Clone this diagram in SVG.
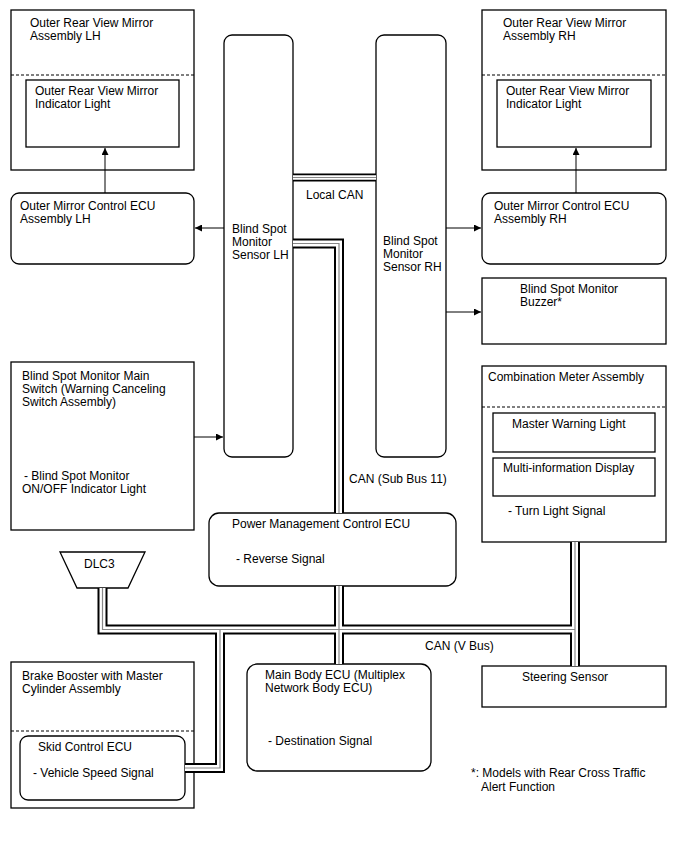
<svg xmlns="http://www.w3.org/2000/svg" width="688" height="852" viewBox="0 0 688 852">
<style>
text{font-family:"Liberation Sans",Arial,sans-serif;font-size:12px;fill:#000}
.b{fill:#fff;stroke:#000;stroke-width:1.3}
.d{stroke:#000;stroke-width:1.2;stroke-dasharray:3,2;fill:none}
.a{stroke:#000;stroke-width:1;fill:none;marker-end:url(#ah)}
.bk{stroke:#000;stroke-width:10;fill:none;stroke-linejoin:miter}
.wh{stroke:#fff;stroke-width:6;fill:none;stroke-linejoin:miter}
.gr{stroke:#888;stroke-width:1.2;fill:none;stroke-linejoin:miter}
.bk2{stroke:#000;stroke-width:8;fill:none}
.wh2{stroke:#fff;stroke-width:4.4;fill:none}
</style>
<defs>
<marker id="ah" viewBox="0 0 10 10" refX="10" refY="5" markerWidth="9" markerHeight="7" markerUnits="userSpaceOnUse" orient="auto"><path d="M0,0L10,5L0,10z" fill="#000"/></marker>
<g id="buspaths">
<path d="M293,243.5H339V513"/>
<path d="M339,586V664"/>
<path d="M102.5,588V629.5H575"/>
<path d="M575,542V666"/>
<path d="M220,629.5V768H185"/>
</g>
<path id="localcan" d="M293,177.5H376"/>
</defs>
<rect width="688" height="852" fill="#fff"/>
<g id="mirror-lh">
<rect class="b" x="11" y="10" width="183" height="160"/>
<path class="d" d="M11,75H194"/>
<text x="30" y="27">Outer Rear View Mirror</text>
<text x="30" y="40">Assembly LH</text>
<rect class="b" x="26" y="80" width="153" height="67"/>
<text x="35" y="95">Outer Rear View Mirror</text>
<text x="35" y="108">Indicator Light</text>
</g>
<g id="mirror-ecu-lh">
<rect class="b" x="11" y="193" width="183" height="71" rx="8"/>
<text x="20" y="210">Outer Mirror Control ECU</text>
<text x="20" y="223">Assembly LH</text>
</g>
<g id="sensor-lh">
<rect class="b" x="224" y="35" width="69" height="422" rx="8"/>
<text x="232" y="233">Blind Spot</text>
<text x="232" y="246">Monitor</text>
<text x="232" y="259">Sensor LH</text>
</g>
<g id="sensor-rh">
<rect class="b" x="376" y="35" width="70" height="422" rx="8"/>
<text x="383" y="245">Blind Spot</text>
<text x="383" y="258">Monitor</text>
<text x="383" y="271">Sensor RH</text>
</g>
<g id="mirror-rh">
<rect class="b" x="482" y="10" width="184" height="160"/>
<path class="d" d="M482,75H666"/>
<text x="503" y="27">Outer Rear View Mirror</text>
<text x="503" y="40">Assembly RH</text>
<rect class="b" x="497" y="80" width="154" height="67"/>
<text x="506" y="95">Outer Rear View Mirror</text>
<text x="506" y="108">Indicator Light</text>
</g>
<g id="mirror-ecu-rh">
<rect class="b" x="482" y="193" width="184" height="71" rx="8"/>
<text x="494" y="210">Outer Mirror Control ECU</text>
<text x="494" y="223">Assembly RH</text>
</g>
<g id="buzzer">
<rect class="b" x="482" y="278" width="184" height="66"/>
<text x="520" y="293">Blind Spot Monitor</text>
<text x="520" y="306">Buzzer*</text>
</g>
<g id="main-switch">
<rect class="b" x="11" y="362" width="183" height="168"/>
<text x="22" y="380">Blind Spot Monitor Main</text>
<text x="22" y="393">Switch (Warning Canceling</text>
<text x="22" y="406">Switch Assembly)</text>
<text x="24" y="480">- Blind Spot Monitor</text>
<text x="22" y="493">ON/OFF Indicator Light</text>
</g>
<g id="combination-meter">
<rect class="b" x="482" y="366" width="184" height="176"/>
<text x="488" y="381">Combination Meter Assembly</text>
<path class="d" d="M482,407H666"/>
<rect class="b" x="493" y="413" width="162" height="39"/>
<text x="512" y="428">Master Warning Light</text>
<rect class="b" x="493" y="458" width="162" height="38"/>
<text x="503" y="472">Multi-information Display</text>
<text x="508" y="515">- Turn Light Signal</text>
</g>
<g id="power-mgmt-ecu">
<rect class="b" x="209" y="513" width="247" height="73" rx="10"/>
<text x="232" y="528">Power Management Control ECU</text>
<text x="236" y="563">- Reverse Signal</text>
</g>
<g id="dlc3">
<path class="b" d="M60,552H145L128,588H77Z"/>
<text x="84" y="568">DLC3</text>
</g>
<g id="brake-booster">
<rect class="b" x="11" y="662" width="183" height="146"/>
<text x="22" y="680">Brake Booster with Master</text>
<text x="22" y="693">Cylinder Assembly</text>
<path class="d" d="M11,731H194"/>
<rect class="b" x="20" y="736" width="165" height="64" rx="8"/>
<text x="38" y="751">Skid Control ECU</text>
<text x="33" y="777">- Vehicle Speed Signal</text>
</g>
<g id="main-body-ecu">
<rect class="b" x="247" y="664" width="184" height="107" rx="10"/>
<text x="265" y="679">Main Body ECU (Multiplex</text>
<text x="265" y="692">Network Body ECU)</text>
<text x="268" y="745">- Destination Signal</text>
</g>
<g id="steering-sensor">
<rect class="b" x="482" y="666" width="184" height="41"/>
<text x="522" y="681">Steering Sensor</text>
</g>
<g id="note">
<text x="471" y="777">*: Models with Rear Cross Traffic</text>
<text x="481" y="791">Alert Function</text>
</g>
<g id="connectors">
<use href="#localcan" class="bk2"/>
<use href="#localcan" class="wh2"/>
<use href="#localcan" class="gr"/>
<use href="#buspaths" class="bk"/>
<use href="#buspaths" class="wh"/>
<use href="#buspaths" class="gr"/>
<path class="a" d="M105,193V148"/>
<path class="a" d="M576,193V148"/>
<path class="a" d="M224,228H195"/>
<path class="a" d="M446,228H481"/>
<path class="a" d="M446,312H481"/>
<path class="a" d="M194,437H223"/>
<text x="306" y="199">Local CAN</text>
<text x="349" y="483">CAN (Sub Bus 11)</text>
<text x="425" y="650">CAN (V Bus)</text>
</g>
</svg>
